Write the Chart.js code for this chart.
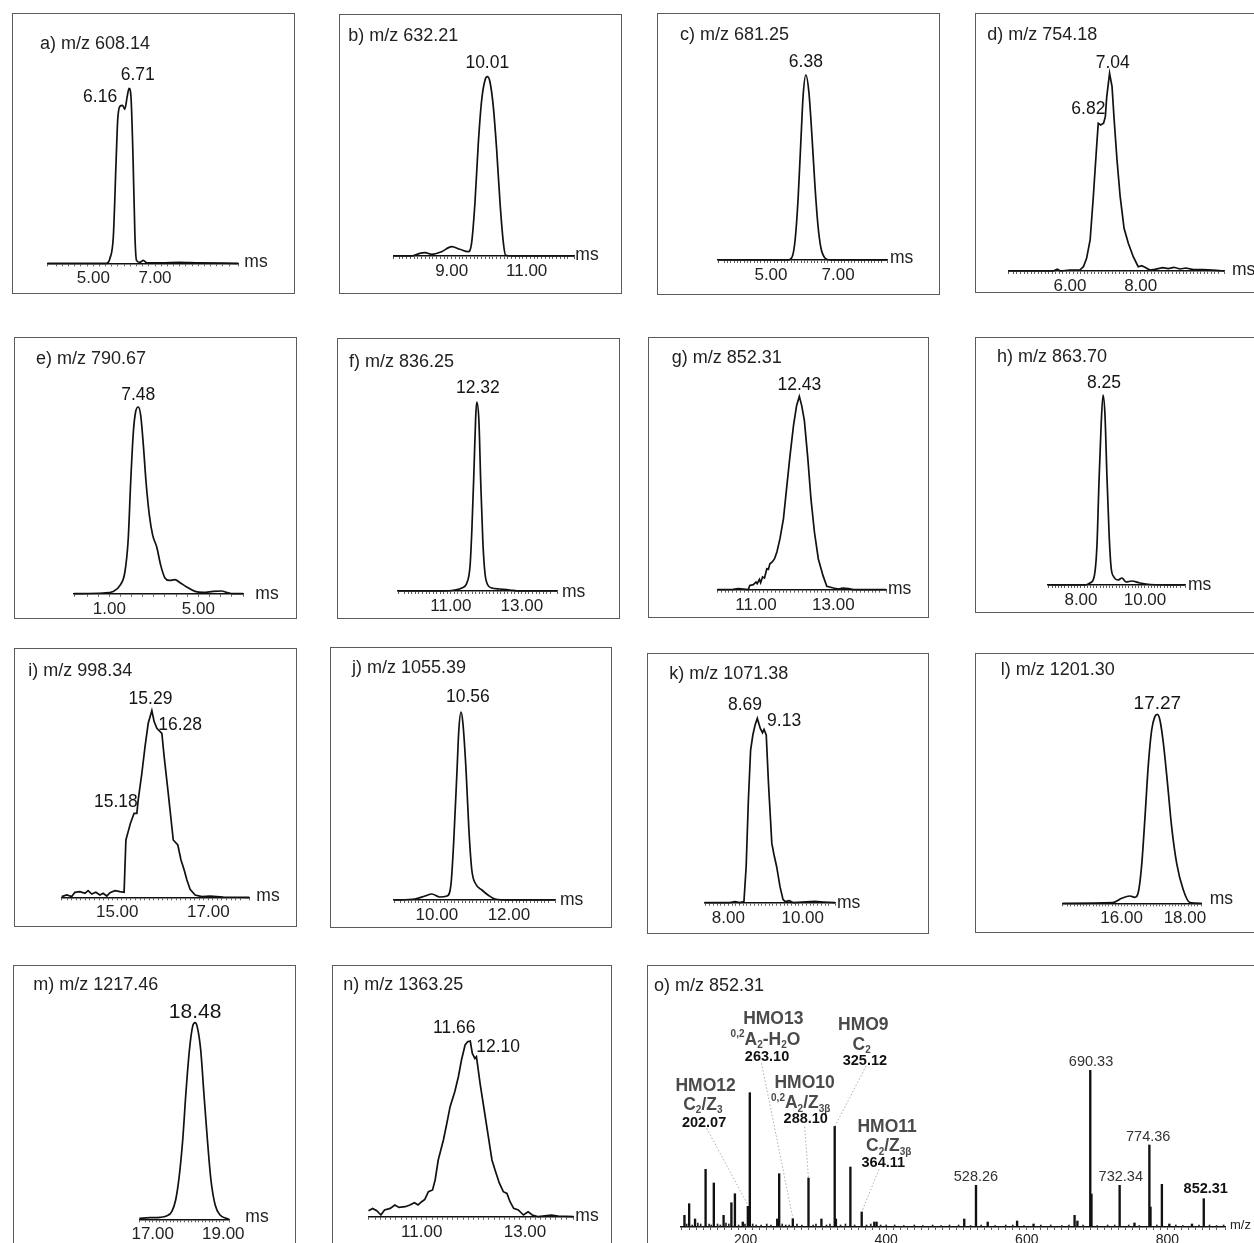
<!DOCTYPE html>
<html><head><meta charset="utf-8">
<script src="https://cdn.jsdelivr.net/npm/chart.js@4/dist/chart.umd.min.js"></script>
<style>
html,body{margin:0;padding:0;overflow:hidden;background:#fff;width:1254px;height:1243px;position:relative}
.box{position:absolute;border:1.5px solid #5b5b5b;box-sizing:border-box}
canvas{position:absolute}
</style></head><body>
<script>
// ---------- DATA (drift time in ms, intensity in a.u.) ----------
const aTime=[3.51,5.43,5.54,5.65,5.74,5.79,5.86,5.95,6.02,6.10,6.16,6.22,6.29,6.35,6.40,6.51,6.62,6.74,7.2,7.8,8.4,9.70];
const aInt =[0,0,5,27,103,143,157,158,154,167,175,167,103,27,3,1,3,0.5,0.5,1,0.5,0];
const aTicks=[5,7]; const aPeaks=['6.16','6.71'];

const bTime=[7.44,7.93,8.15,8.29,8.47,8.73,9.00,9.22,9.44,9.53,9.62,9.71,9.80,9.89,9.95,10.02,10.11,10.20,10.29,10.38,10.44,10.60,12.27];
const bInt =[0,0,2.7,3.3,1.7,4.3,9.3,6.7,4.3,12.7,52.7,112.7,156,176,179.3,174.3,149.3,106,52.7,12.7,0.7,0,0];
const bTicks=[9,11]; const bPeaks=['10.01'];

const cTime=[3.42,5.51,5.63,5.72,5.81,5.90,5.96,6.04,6.13,6.22,6.31,6.40,6.49,6.61,6.76,8.46];
const cInt =[0,0,3,20,62,125,165,185,168,125,75,35,12,2,0,0];
const cTicks=[5,7]; const cPeaks=['6.38'];

const dTime=[4.255,5.53,5.64,5.73,6.00,6.28,6.38,6.47,6.57,6.66,6.76,6.80,6.87,6.95,7.00,7.04,7.12,7.19,7.25,7.33,7.42,7.53,7.65,7.79,7.93,8.03,8.12,8.26,8.40,8.62,8.78,8.94,9.11,9.28,9.49,9.77,10.14,10.36];
const dInt =[0,0,1.7,0,1,1,4.3,12.7,31,74.3,127.7,147.7,146,147.7,154.3,174.3,197.7,184.3,151,111,74.3,42.7,27.7,14.3,4.3,5.3,3.7,1,1.7,3.3,2.3,3.7,2,3,1.3,1.3,0.7,0];
const dTicks=[6,8]; const dPeaks=['7.04','6.82'];

const eTime=[-0.587,0.73,1.18,1.48,1.70,1.85,1.96,2.08,2.18,2.30,2.41,2.53,2.65,2.80,2.95,3.13,3.31,3.50,3.70,3.95,4.18,4.48,4.85,5.22,5.67,6.05,6.27,6.57,7.02];
const eInt =[0,0.7,2.3,8.3,21.7,55,111.7,161.7,181.7,186.7,178.3,148.3,111.7,78.3,58.3,46.7,28.3,15.7,13.3,14,11,6.7,2.3,1.3,2.3,2.7,1.3,0,0];
const eTicks=[1,5]; const ePeaks=['7.48'];

const fTime=[9.51,10.69,11.11,11.31,11.45,11.54,11.59,11.65,11.70,11.73,11.79,11.84,11.90,11.96,12.04,12.15,12.38,12.66,12.94,13.99];
const fInt =[0,0,1,3,8,25,60,120,175,189,170,110,50,18,6,3,2,1,0,0];
const fTicks=[11,13]; const fPeaks=['12.32'];

const gTime=[10.0,10.41,10.54,10.80,10.84,10.93,11.00,11.03,11.09,11.12,11.17,11.22,11.28,11.32,11.36,11.42,11.48,11.54,11.62,11.71,11.79,11.88,11.97,12.05,12.12,12.18,12.25,12.34,12.42,12.51,12.61,12.73,12.83,13.00,13.13,13.24,13.39,13.52,14.36];
const gInt =[0,0.3,1,0,4.3,5,7.7,6,10.3,7,12.7,11.7,21,20.3,26,27.7,31,37.7,51,71,101,134.3,164.3,184.3,193.3,184.3,169.3,131,91,57.7,31,14.3,3.3,1.7,0.7,1.7,1,0,0];
const gTicks=[11,13]; const gPeaks=['12.43'];

const hTime=[6.97,8.13,8.28,8.41,8.50,8.56,8.63,8.69,8.75,8.81,8.88,8.94,9.03,9.16,9.28,9.41,9.59,9.84,10.16,11.25];
const hInt =[0,0,2,8,40,100,160,190,170,110,50,18,8,5,7,3,4,2,0.5,0];
const hTicks=[8,10]; const hPeaks=['8.25'];

const iTime=[13.78,13.89,14.00,14.07,14.18,14.29,14.36,14.44,14.53,14.62,14.69,14.77,14.84,14.95,15.06,15.15,15.19,15.24,15.29,15.37,15.43,15.46,15.54,15.61,15.68,15.76,15.81,15.87,15.98,16.03,16.12,16.23,16.33,16.40,16.47,16.53,16.60,16.71,16.86,17.04,17.33,17.90];
const iInt =[0.7,2.3,0.7,5,5.7,4,6.7,3.3,5,2.3,4,1.3,4.7,6.7,5.7,5,57.3,65.7,74,84,84,97.3,124,150.7,174,186.7,175.7,169,164,140.7,104,57.3,52.3,37.3,27.3,17.3,8,2.3,0.7,1.3,0.3,0];
const iTicks=[15,17]; const iPeaks=['15.29','16.28','15.18'];

const jTime=[8.81,9.39,9.67,9.86,10.08,10.28,10.39,10.47,10.56,10.61,10.67,10.72,10.81,10.89,10.97,11.08,11.25,11.42,11.61,12.03,13.28];
const jInt =[0,1,4,6,3,4,15,60,130,170,188,178,130,70,30,16,10,5,1,0,0];
const jTicks=[10,12]; const jPeaks=['10.56'];

const kTime=[7.37,8.04,8.18,8.31,8.42,8.48,8.54,8.60,8.66,8.72,8.78,8.86,8.92,8.96,9.02,9.08,9.17,9.23,9.30,9.39,9.47,9.53,9.64,9.75,10.33,10.55,10.87];
const kInt =[0,0,1,0,1,36,102.7,152.7,167.7,177.7,184.3,174.3,170,173.3,167.7,119.3,59.3,47.7,36,16,3.3,1,2,0,1.3,0.7,0];
const kTicks=[8,10]; const kPeaks=['8.69','9.13'];

const lTime=[14.14,15.73,16.00,16.26,16.42,16.52,16.63,16.74,16.84,16.95,17.05,17.13,17.21,17.32,17.45,17.58,17.74,17.95,18.16,18.53];
const lInt =[0,0.7,5,7.3,6,10,36.7,86.7,136.7,173.3,186.7,189,183.3,160,120,76.7,40,13.3,0.7,0];
const lTicks=[16,18]; const lPeaks=['17.27'];

const mTime=[16.62,16.92,17.21,17.39,17.54,17.65,17.75,17.85,17.94,18.04,18.13,18.20,18.26,18.36,18.45,18.55,18.65,18.77,18.91,19.08,19.17];
const mInt =[1,1.7,2,3.3,7.7,19.3,42.7,79.3,126,169.3,192.7,196.7,192.7,169.3,126,79.3,39.3,14.3,4.3,1,0];
const mTicks=[17,19]; const mPeaks=['18.48'];

const nTime=[9.97,10.05,10.13,10.21,10.28,10.39,10.48,10.56,10.68,10.77,10.86,10.93,11.00,11.06,11.13,11.21,11.26,11.32,11.37,11.42,11.48,11.55,11.64,11.71,11.77,11.84,11.89,11.94,11.98,12.03,12.06,12.13,12.21,12.29,12.36,12.42,12.50,12.58,12.65,12.71,12.78,12.87,12.97,13.06,13.14,13.26,13.51,13.64,13.94];
const nInt =[6,8.3,6,1.7,6.7,8.3,11.7,9.3,10,11.7,14,11.7,15,17.3,25,26.7,36.7,56.7,66.7,76.7,91.7,110,125,140,156.7,171.7,175,175.7,163.3,158.3,160,133.3,106.7,80,56.7,46.7,34,25,23.3,15,8.3,6.7,1.7,5,1.7,0,1.7,0.7,0];
const nTicks=[11,13]; const nPeaks=['11.66','12.10'];

// MS/MS spectrum of m/z 852.31
const oMz =[112.9,119.6,128,143,154.7,168.6,179.7,184.7,195.9,203.1,205.9,244.9,247.7,267.1,289.4,307.8,326.7,328.4,349,365.1,383,386.3,511,527.7,544.4,586.2,609.6,668,672,690.3,692,732.1,753.2,774.4,776,792.2,802.8,835,851.8];
const oInt=[11.7,23.3,8,57.7,44,11.7,24.3,33.3,5,20.7,134.3,8,53.3,8.3,49,8,100.7,8,60,15,5,5,8,41.7,5,6,3,11.7,6,156.7,33,41.7,4,82,20,42.7,3,3,28.3];
const oNoiseMz =[116,124,132,136,148,151,160,164,172,176,190,199,210,215,222,230,236,252,257,262,273,280,296,300,315,320,335,342,355,372,378,392,400,412,425,440,452,466,478,490,503,520,535,555,570,580,596,620,634,650,660,680,700,715,725,745,760,785,812,822,845,860,870,880];
const oNoiseInt=[3,2,4,3,3,2,3,2,4,3,2,3,3,2,2,3,2,3,2,2,3,2,2,3,2,3,2,3,2,2,3,2,2,2,1.5,2,1.5,2,1.5,2,2,1.5,2,1.5,2,2,1.5,2,2,1.5,2,2,1.5,2,2,2,1.5,2,2,1.5,2,2,1.5,2];
const oTicks=[200,400,600,800];
const oPlainLabels=['690.33','774.36','732.34','528.26'];
const oBoldLabel='852.31';
const oNames=['HMO12','HMO13','HMO10','HMO9','HMO11'];
const oFragMz=['202.07','263.10','288.10','325.12','364.11'];

// ---------- LAYOUT / STYLE ----------
const FAM='"Liberation Sans", Arial, Helvetica, sans-serif';
const panels=[
 {t:'a) m/z 608.14',box:[12,13,283,281],base:250.3,pl:35.3,pr:56.7,min:3.509,max:9.70,step:0.2,ticks:aTicks,x:aTime,y:aInt,smooth:true,tp:[28,31],ms:[6,-1],pk:aPeaks,pp:[[5.22,166],[6.44,188]]},
 {t:'b) m/z 632.21',box:[339,14,283,280],base:242,pl:54.3,pr:47.7,min:7.443,max:12.27,step:0.1,ticks:bTicks,x:bTime,y:bInt,smooth:true,tp:[9.3,22],ms:[1,-1],pk:bPeaks,pp:[[9.95,192.7]]},
 {t:'c) m/z 681.25',box:[657,13,283,282],base:247,pl:61,pr:53,min:3.42,max:8.46,step:0.1,ticks:cTicks,x:cTime,y:cInt,smooth:true,tp:[23,22],ms:[3,-2],pk:cPeaks,pp:[[6.04,198]]},
 {t:'d) m/z 754.18',box:[975,13,283,280],base:258,pl:33.3,pr:34,min:4.255,max:10.357,step:0.1,ticks:dTicks,x:dTime,y:dInt,smooth:false,tp:[12.3,22],ms:[8,-1],pk:dPeaks,pp:[[7.21,208.3],[6.52,161.7]]},
 {t:'e) m/z 790.67',box:[14,337,283,282],base:256.7,pl:60,pr:53.7,min:-0.587,max:7.02,step:0.5,ticks:eTicks,x:eTime,y:eInt,smooth:true,tp:[22,21.7],ms:[12,0],pk:ePeaks,pp:[[2.30,199]]},
 {t:'f) m/z 836.25',box:[337,338,283,281],base:253,pl:61,pr:63,min:9.51,max:13.99,step:0.1,ticks:fTicks,x:fTime,y:fInt,smooth:true,tp:[12,24],ms:[5,1],pk:fPeaks,pp:[[11.76,203]]},
 {t:'g) m/z 852.31',box:[648,337,281,281],base:252.7,pl:69.3,pr:43,min:10.0,max:14.36,step:0.1,ticks:gTicks,x:gTime,y:gInt,smooth:false,tp:[23.7,21],ms:[2,-1],pk:gPeaks,pp:[[12.12,204.4]]},
 {t:'h) m/z 863.70',box:[975,337,283,276],base:248,pl:73,pr:73,min:6.97,max:11.25,step:0.1,ticks:hTicks,x:hTime,y:hInt,smooth:true,tp:[22,20],ms:[3,0],pk:hPeaks,pp:[[8.72,202]]},
 {t:'i) m/z 998.34',box:[14,648,283,279],base:249.3,pl:47.7,pr:47.7,min:13.78,max:17.90,step:0.1,ticks:iTicks,x:iTime,y:iInt,smooth:false,tp:[14.3,22.7],ms:[7,-1],pk:iPeaks,pp:[[15.73,198],[16.38,172.3],[14.97,95.6]]},
 {t:'j) m/z 1055.39',box:[330,647,282,281],base:253,pl:64,pr:57,min:8.81,max:13.28,step:0.1,ticks:jTicks,x:jTime,y:jInt,smooth:true,tp:[22,21],ms:[5,0],pk:jPeaks,pp:[[10.86,203]]},
 {t:'k) m/z 1071.38',box:[647,653,282,281],base:249.7,pl:58,pr:94,min:7.374,max:10.868,step:0.1,ticks:kTicks,x:kTime,y:kInt,smooth:false,tp:[22.3,21],ms:[2,0],pk:kPeaks,pp:[[8.45,197.7],[9.50,181.7]]},
 {t:'l) m/z 1201.30',box:[975,653,283,280],base:250.3,pl:87.7,pr:56.3,min:14.14,max:18.53,step:0.1,ticks:lTicks,x:lTime,y:lInt,smooth:true,tp:[25.7,17],ms:[8,-4],pk:lPeaks,pp:[[17.13,200]],pkSize:19},
 {t:'m) m/z 1217.46',box:[13,965,283,290],base:254.3,pl:126.3,pr:66.7,min:16.62,max:19.17,step:0.1,ticks:mTicks,x:mTime,y:mInt,smooth:true,tp:[20.3,20],ms:[16,-2],pk:mPeaks,pp:[[18.20,206.6]],pkSize:21},
 {t:'n) m/z 1363.25',box:[332,965,280,290],base:251.7,pl:36.3,pr:38.7,min:9.966,max:13.935,step:0.1,ticks:nTicks,x:nTime,y:nInt,smooth:false,tp:[11.3,20],ms:[2,-1],pk:nPeaks,pp:[[11.63,188.4],[12.48,169.4]]}
];

function near(v,arr){return arr.some(t=>Math.abs(v-t)<1e-6);}

function makeBox(box){
  const [l,t,w,h]=box;
  const d=document.createElement('div');d.className='box';
  Object.assign(d.style,{left:l+'px',top:t+'px',width:w+'px',height:h+'px'});
  document.body.appendChild(d);
  const c=document.createElement('canvas');c.width=w;c.height=h;
  Object.assign(c.style,{left:l+'px',top:t+'px',width:w+'px',height:h+'px'});
  document.body.appendChild(c);
  return c;
}

function xScale(p,tickSize,fmt){
  const h=p.box[3];
  return {type:'linear',min:p.min,max:p.max,offset:false,
    afterFit:(s)=>{s.height=h-p.base;},
    border:{display:true,color:'#111',width:1.6},
    grid:{drawOnChartArea:false,drawTicks:true,tickLength:3,color:'#333',lineWidth:0.8,offset:false},
    ticks:{stepSize:p.step,autoSkip:false,maxRotation:0,minRotation:0,padding:2,color:'#222',
      font:{family:FAM,size:tickSize},
      callback:(v)=>near(v,p.ticks)?fmt(v):''}};
}

function basicAnnot(p,msText,msSize,extra){
  return {id:'annot',afterDraw(chart){
    const ctx=chart.ctx, xs=chart.scales.x, ys=chart.scales.y;
    ctx.save();
    ctx.fillStyle='#222';ctx.textBaseline='middle';ctx.textAlign='left';
    ctx.font='18px '+FAM;
    ctx.fillText(p.t,p.tp[0],p.tp[1]);
    ctx.font=msSize+'px '+FAM;
    ctx.fillText(msText,xs.right+p.ms[0],xs.top+p.ms[1]);
    if(p.pk){
      ctx.textAlign='center';ctx.fillStyle='#151515';
      ctx.font=(p.pkSize||17.5)+'px '+FAM;
      p.pk.forEach((txt,i)=>{
        ctx.fillText(txt,xs.getPixelForValue(p.pp[i][0]),ys.getPixelForValue(p.pp[i][1]));
      });
    }
    if(extra) extra(ctx,xs,ys);
    ctx.restore();
  }};
}

panels.forEach(p=>{
  const c=makeBox(p.box);
  new Chart(c,{type:'line',
    data:{datasets:[{data:p.x.map((v,i)=>({x:v,y:p.y[i]})),borderColor:'#111',borderWidth:1.7,
      pointRadius:0,fill:false,clip:false,tension:p.smooth?0.4:0,
      cubicInterpolationMode:p.smooth?'monotone':'default'}]},
    options:{responsive:false,animation:false,devicePixelRatio:1,
      layout:{padding:{left:p.pl,right:p.pr,top:0,bottom:0}},
      plugins:{legend:{display:false},tooltip:{enabled:false},title:{display:false}},
      scales:{x:xScale(p,17,v=>v.toFixed(2)),y:{display:false,min:0,max:p.base}}},
    plugins:[basicAnnot(p,'ms',17.5)]});
});

// ---------- panel o ----------
const oPanel={t:'o) m/z 852.31',box:[647,965,611,290],base:262,pl:34,pr:33,min:108,max:882,step:10,ticks:oTicks,tp:[7,21],ms:[5,-2]};
const oPlainPos=[[691.4,165.3],[772.7,90.3],[733.7,50.3],[527.7,50.3]];
const oBoldPos=[854.6,37.7];
const oBlocks=[
  {name:[143,141],form:[139.1,123.7],num:[140.8,104.3],segs:[{t:'C',k:'n'},{t:'2',k:'sub'},{t:'/Z',k:'n'},{t:'3',k:'sub'}]},
  {name:[239.3,207.7],form:[228.2,188.7],num:[230.4,170.3],segs:[{t:'0,2',k:'sup'},{t:'A',k:'n'},{t:'2',k:'sub'},{t:'-H',k:'n'},{t:'2',k:'sub'},{t:'O',k:'n'}]},
  {name:[283.9,144.3],form:[278.3,125.3],num:[285.5,107.7],segs:[{t:'0,2',k:'sup'},{t:'A',k:'n'},{t:'2',k:'sub'},{t:'/Z',k:'n'},{t:'3β',k:'sub'}]},
  {name:[367.4,202],form:[365.1,183.7],num:[369.6,166.3],segs:[{t:'C',k:'n'},{t:'2',k:'sub'}]},
  {name:[401.3,100.3],form:[403.6,82],num:[395.8,63.7],segs:[{t:'C',k:'n'},{t:'2',k:'sub'},{t:'/Z',k:'n'},{t:'3β',k:'sub'}]}
];
const oLeaders=[[144.6,98.7,203.1,22],[222.6,163.7,267.2,8.7],[283.9,100.3,289.4,48.7],[371.3,161,326.7,100.3],[389.6,57.7,365.1,15]];

function drawRich(ctx,segs,cx,cy,size,color){
  const small=Math.round(size*0.58);
  let total=0;
  segs.forEach(s=>{ctx.font='bold '+(s.k==='n'?size:small)+'px '+FAM;s.w=ctx.measureText(s.t).width;total+=s.w;});
  let x=cx-total/2;
  ctx.fillStyle=color;ctx.textAlign='left';ctx.textBaseline='alphabetic';
  const by=cy+size*0.36;
  segs.forEach(s=>{
    ctx.font='bold '+(s.k==='n'?size:small)+'px '+FAM;
    const dy=s.k==='sub'?size*0.2:(s.k==='sup'?-size*0.42:0);
    ctx.fillText(s.t,x,by+dy);x+=s.w;
  });
}

(function(){
  const p=oPanel;
  const c=makeBox(p.box);
  const extra=(ctx,xs,ys)=>{
    const X=v=>xs.getPixelForValue(v), Y=v=>ys.getPixelForValue(v);
    ctx.save();ctx.strokeStyle='#9a9a9a';ctx.lineWidth=0.8;ctx.setLineDash([1.5,2]);
    oLeaders.forEach(L=>{ctx.beginPath();ctx.moveTo(X(L[0]),Y(L[1]));ctx.lineTo(X(L[2]),Y(L[3]));ctx.stroke();});
    ctx.restore();
    ctx.textAlign='center';ctx.textBaseline='middle';ctx.fillStyle='#333';
    ctx.font='14.5px '+FAM;
    oPlainLabels.forEach((t,i)=>ctx.fillText(t,X(oPlainPos[i][0]),Y(oPlainPos[i][1])));
    ctx.font='bold 14.5px '+FAM;ctx.fillStyle='#111';
    ctx.fillText(oBoldLabel,X(oBoldPos[0]),Y(oBoldPos[1]));
    oBlocks.forEach((b,i)=>{
      ctx.textAlign='center';ctx.textBaseline='middle';
      ctx.font='bold 17.5px '+FAM;ctx.fillStyle='#4a4a4a';
      ctx.fillText(oNames[i],X(b.name[0]),Y(b.name[1]));
      drawRich(ctx,b.segs,X(b.form[0]),Y(b.form[1]),17.5,'#4a4a4a');
      ctx.textAlign='center';ctx.textBaseline='middle';
      ctx.font='bold 14.5px '+FAM;ctx.fillStyle='#111';
      ctx.fillText(oFragMz[i],X(b.num[0]),Y(b.num[1]));
    });
  };
  new Chart(c,{type:'bar',
    data:{datasets:[
      {data:oMz.map((v,i)=>({x:v,y:oInt[i]})),backgroundColor:'#111',barThickness:1.7,grouped:false},
      {data:oNoiseMz.map((v,i)=>({x:v,y:oNoiseInt[i]})),backgroundColor:'#222',barThickness:1,grouped:false}]},
    options:{responsive:false,animation:false,devicePixelRatio:1,
      layout:{padding:{left:p.pl,right:p.pr,top:0,bottom:0}},
      plugins:{legend:{display:false},tooltip:{enabled:false},title:{display:false}},
      scales:{x:xScale(p,14,v=>v.toFixed(0)),y:{display:false,min:0,max:p.base}}},
    plugins:[basicAnnot(p,'m/z',13,extra)]});
})();
</script>
</body></html>
